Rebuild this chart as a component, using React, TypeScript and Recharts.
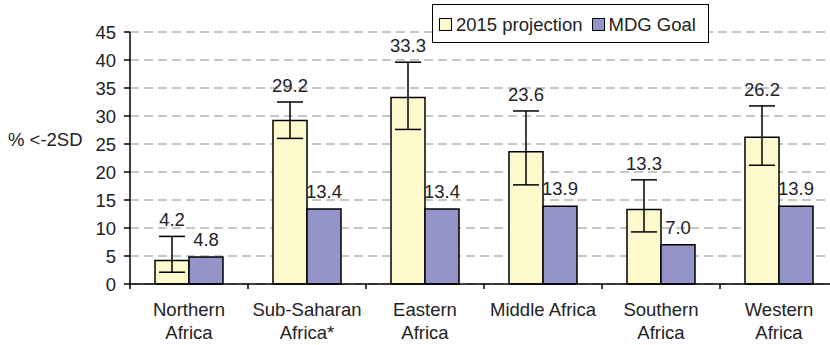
import { BarChart, Bar, XAxis, YAxis, CartesianGrid, ErrorBar, LabelList } from 'recharts';

const categories = [
  'Northern\nAfrica',
  'Sub-Saharan\nAfrica*',
  'Eastern\nAfrica',
  'Middle Africa',
  'Southern\nAfrica',
  'Western\nAfrica',
];
const projection = [4.2, 29.2, 33.3, 23.6, 13.3, 26.2];
const projectionLow = [2.1, 26.0, 27.6, 17.7, 9.3, 21.2];
const projectionHigh = [8.5, 32.5, 39.6, 30.9, 18.6, 31.8];
const mdgGoal = [4.8, 13.4, 13.4, 13.9, 7.0, 13.9];
const yTicks = [0, 5, 10, 15, 20, 25, 30, 35, 40, 45];

const FONT = '"Liberation Sans", Arial, Helvetica, sans-serif';
const FS = 18.5;
const TEXT = '#222';
const YELLOW = '#FFFACD';
const PURPLE = '#9494C8';

const data = categories.map((name, i) => ({
  name,
  projection: projection[i],
  err: [projection[i] - projectionLow[i], projectionHigh[i] - projection[i]],
  goal: mdgGoal[i],
}));

function CategoryTick(props: any) {
  const { x, y, payload } = props;
  const half = payload.offset ?? 59;
  const lines = String(payload.value).split('\n');
  return (
    <g>
      <line x1={x - half} x2={x - half} y1={y} y2={y + 5} stroke="#000" strokeWidth={1.5} />
      {payload.index === categories.length - 1 && (
        <line x1={x + half} x2={x + half} y1={y} y2={y + 5} stroke="#000" strokeWidth={1.5} />
      )}
      <text x={x} y={y + 32} textAnchor="middle" fontSize={FS} fontFamily={FONT} fill={TEXT}>
        {lines.map((l, i) => (
          <tspan key={i} x={x} dy={i === 0 ? 0 : 23}>
            {l}
          </tspan>
        ))}
      </text>
    </g>
  );
}

// value label sitting above the top of the error bar
function ProjectionLabel(props: any) {
  const { x, y, width, height, value, index } = props;
  const perUnit = height / value;
  const top = y - (projectionHigh[index] - value) * perUnit;
  return (
    <text x={x + width / 2} y={top - 10} textAnchor="middle" fontSize={FS} fontFamily={FONT} fill={TEXT}>
      {value.toFixed(1)}
    </text>
  );
}

function GoalLabel(props: any) {
  const { x, y, width, value } = props;
  return (
    <text x={x + width / 2} y={y - 11} textAnchor="middle" fontSize={FS} fontFamily={FONT} fill={TEXT}>
      {value.toFixed(1)}
    </text>
  );
}

function LegendSwatch({ color }: { color: string }) {
  return (
    <span
      style={{
        display: 'inline-block',
        width: 11,
        height: 11,
        background: color,
        border: '1.5px solid #000',
        marginRight: 4,
      }}
    />
  );
}

export default function App() {
  return (
    <div
      style={{
        position: 'absolute',
        left: 0,
        top: 0,
        width: 830,
        height: 345,
        overflow: 'hidden',
        background: '#fff',
        fontFamily: FONT,
      }}
    >
      <BarChart
        width={850}
        height={345}
        data={data}
        margin={{ top: 32, right: 12, bottom: 0, left: 70 }}
        barGap={0}
        barSize={34}
      >
        <CartesianGrid vertical={false} stroke="#b4b4b4" strokeDasharray="9 5" strokeWidth={1.5} />
        <XAxis
          dataKey="name"
          height={61}
          tickLine={false}
          tickSize={0}
          tickMargin={0}
          interval={0}
          axisLine={{ stroke: '#000', strokeWidth: 1.5 }}
          tick={<CategoryTick />}
        />
        <YAxis
          width={60}
          domain={[0, 45]}
          ticks={yTicks}
          interval={0}
          tickSize={6}
          tickMargin={8}
          axisLine={{ stroke: '#000', strokeWidth: 1.5 }}
          tickLine={{ stroke: '#000', strokeWidth: 1.5 }}
          tick={{ fontSize: FS, fontFamily: FONT, fill: TEXT }}
          label={{
            content: () => (
              <text x={8} y={146} fontSize={FS} fontFamily={FONT} fill={TEXT}>
                % &lt;-2SD
              </text>
            ),
          }}
        />
        <Bar dataKey="projection" fill={YELLOW} stroke="#000" strokeWidth={1.5} isAnimationActive={false}>
          <ErrorBar dataKey="err" width={13} stroke="#000" strokeWidth={1.5} isAnimationActive={false} />
          <LabelList dataKey="projection" content={<ProjectionLabel />} />
        </Bar>
        <Bar dataKey="goal" fill={PURPLE} stroke="#000" strokeWidth={1.5} isAnimationActive={false}>
          <LabelList dataKey="goal" content={<GoalLabel />} />
        </Bar>
      </BarChart>
      <div
        style={{
          position: 'absolute',
          left: 432,
          top: 4,
          width: 269,
          height: 35,
          border: '1.5px solid #000',
          background: '#fff',
          display: 'flex',
          alignItems: 'center',
          paddingLeft: 6,
          paddingTop: 2,
          boxSizing: 'content-box',
          fontSize: FS,
          color: TEXT,
          whiteSpace: 'nowrap',
        }}
      >
        <LegendSwatch color={YELLOW} />
        <span style={{ marginRight: 9 }}>2015 projection</span>
        <LegendSwatch color={PURPLE} />
        <span>MDG Goal</span>
      </div>
    </div>
  );
}
